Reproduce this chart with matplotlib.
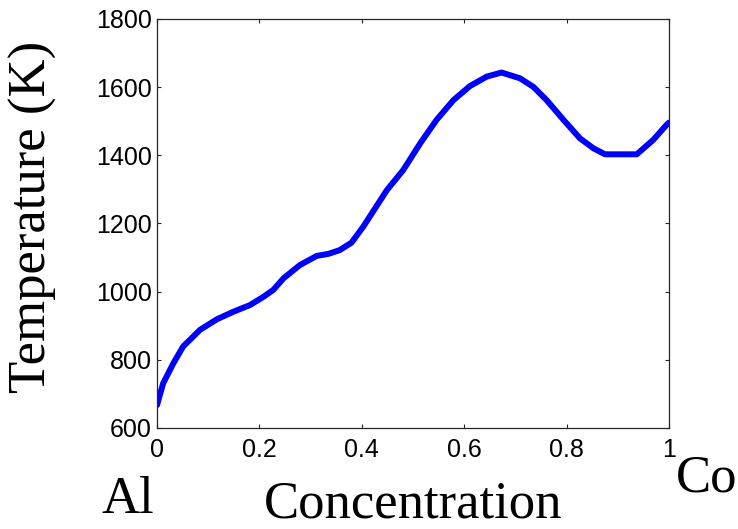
import matplotlib
matplotlib.use("Agg")
import matplotlib.pyplot as plt

# concentration (0 = Al, 1 = Co) and temperature (K)
conc = [0.000, 0.012, 0.032, 0.051, 0.084, 0.117, 0.149, 0.182, 0.208, 0.227,
        0.247, 0.279, 0.312, 0.335, 0.357, 0.380, 0.403, 0.449, 0.481, 0.514,
        0.546, 0.579, 0.611, 0.644, 0.673, 0.709, 0.735, 0.761, 0.794, 0.826,
        0.852, 0.875, 0.937, 0.969, 0.995, 1.000]
temp = [667, 731, 790, 839, 888, 919, 941, 961, 985, 1005,
        1039, 1078, 1105, 1111, 1122, 1144, 1191, 1298, 1357, 1435,
        1504, 1562, 1603, 1631, 1643, 1626, 1601, 1562, 1504, 1450,
        1421, 1403, 1403, 1445, 1489, 1496]

xticks = [0, 0.2, 0.4, 0.6, 0.8, 1]
xtick_labels = ["0", "0.2", "0.4", "0.6", "0.8", "1"]
yticks = [600, 800, 1000, 1200, 1400, 1600, 1800]

serif = ["Liberation Serif", "DejaVu Serif"]
sans = ["Liberation Sans", "DejaVu Sans"]

fig = plt.figure(figsize=(7.38, 5.29), dpi=100)
ax = fig.add_axes([157 / 738, 1 - 428 / 529, 512 / 738, 409 / 529])

ax.plot(conc, temp, color="#0000ff", linewidth=4.3, solid_capstyle="round")

ax.set_xlim(0, 1)
ax.set_ylim(600, 1800)
ax.set_xticks(xticks)
ax.set_xticklabels(xtick_labels)
ax.set_yticks(yticks)

for lab in ax.get_xticklabels() + ax.get_yticklabels():
    lab.set_family(sans)
    lab.set_fontsize(18)

ax.tick_params(axis="both", direction="in", length=3, width=0.8,
               color="#262626", top=True, right=True)
ax.tick_params(axis="x", pad=7)
ax.tick_params(axis="y", pad=3.6)
for sp in ax.spines.values():
    sp.set_linewidth(0.9)
    sp.set_color("#262626")

# axis titles and end-member labels
fig.text(32.5 / 738, 1 - 217 / 529, "Temperature (K)", rotation=90,
         ha="center", va="center", fontsize=38, family=serif)
fig.text(413 / 738, 1 - 517 / 529, "Concentration", ha="center",
         va="baseline", fontsize=38, family=serif)
fig.text(101 / 738, 1 - 513 / 529, "Al", ha="left", va="baseline",
         fontsize=38, family=serif)
fig.text(675.5 / 738, 1 - 492 / 529, "Co", ha="left", va="baseline",
         fontsize=38, family=serif)

fig.savefig("out.png", dpi=100, facecolor="white")
